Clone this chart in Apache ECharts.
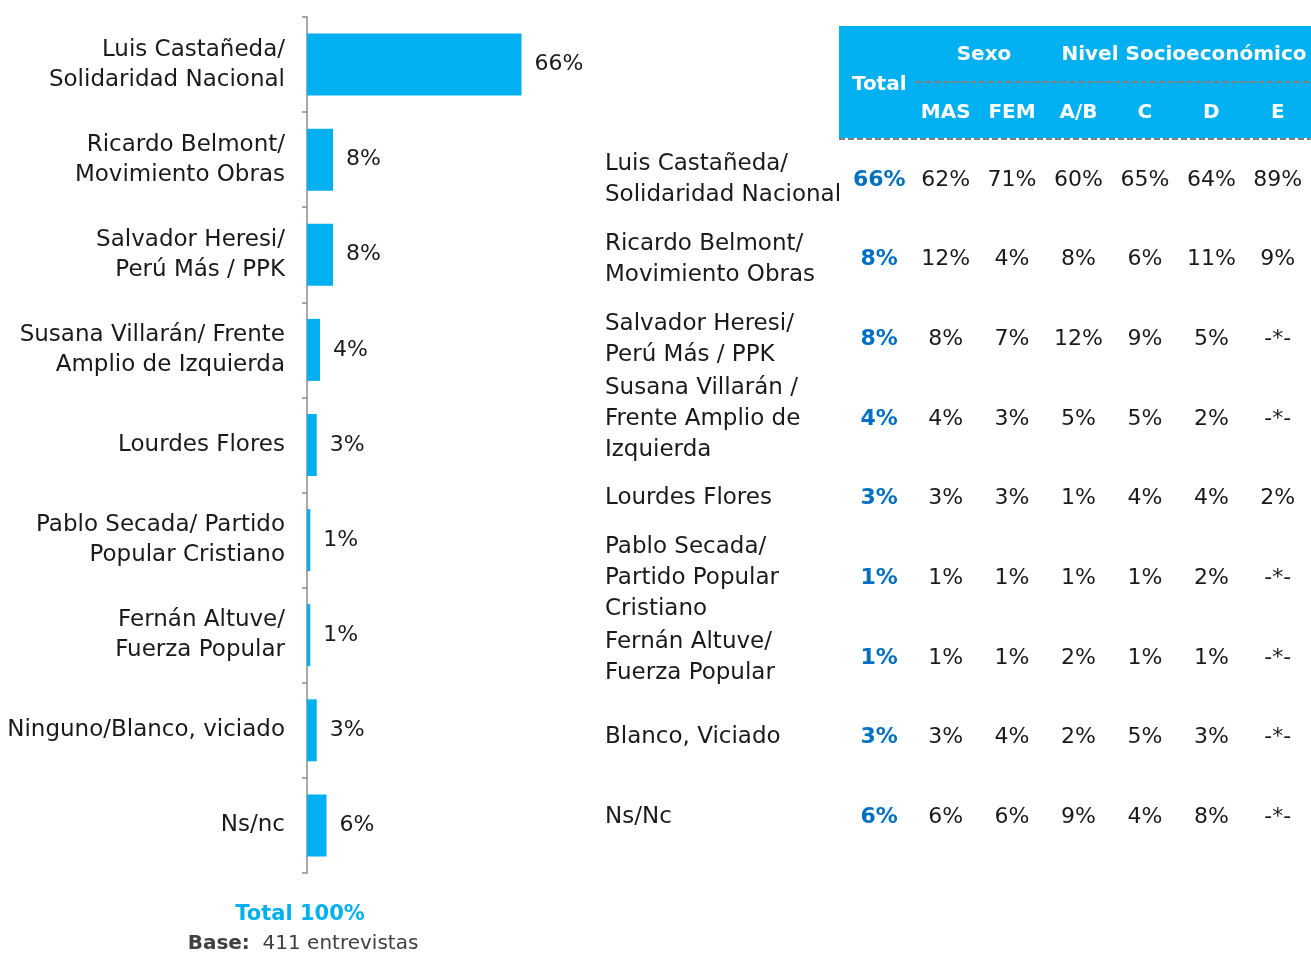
<!DOCTYPE html>
<html>
<head>
<meta charset="utf-8">
<script src="https://cdn.jsdelivr.net/npm/echarts@6/dist/echarts.min.js"></script>
<style>
  html, body { margin: 0; padding: 0; background: #fff; }
  #main { width: 1311px; height: 954px; }
</style>
</head>
<body>
<div id="main"></div>
<script>
// candidatos (grafico de barras)
var candidatos = [
  'Luis Castañeda/\nSolidaridad Nacional',
  'Ricardo Belmont/\nMovimiento Obras',
  'Salvador Heresi/\nPerú Más / PPK',
  'Susana Villarán/ Frente\nAmplio de Izquierda',
  'Lourdes Flores',
  'Pablo Secada/ Partido\nPopular Cristiano',
  'Fernán Altuve/\nFuerza Popular',
  'Ninguno/Blanco, viciado',
  'Ns/nc'
];
var intencion = [66, 8, 8, 4, 3, 1, 1, 3, 6];

// tabla por segmentos
var filasTabla = [
  'Luis Castañeda/\nSolidaridad Nacional',
  'Ricardo Belmont/\nMovimiento Obras',
  'Salvador Heresi/\nPerú Más / PPK',
  'Susana Villarán /\nFrente Amplio de\nIzquierda',
  'Lourdes Flores',
  'Pablo Secada/\nPartido Popular\nCristiano',
  'Fernán Altuve/\nFuerza Popular',
  'Blanco, Viciado',
  'Ns/Nc'
];
var columnas = ['Total', 'MAS', 'FEM', 'A/B', 'C', 'D', 'E'];
var total = [66, 8, 8, 4, 3, 1, 1, 3, 6];
var mas   = [62, 12, 8, 4, 3, 1, 1, 3, 6];
var fem   = [71, 4, 7, 3, 3, 1, 1, 4, 6];
var nseAB = [60, 8, 12, 5, 1, 1, 2, 2, 9];
var nseC  = [65, 6, 9, 5, 4, 1, 1, 5, 4];
var nseD  = [64, 11, 5, 2, 4, 2, 1, 3, 8];
var nseE  = [89, 9, null, null, 2, null, null, null, null];

var FONT = 'DejaVu Sans';
var CELESTE = '#00B0F0';
var TEXTO = '#1a1a1a';

// celdas de la tabla -> [columna, fila, valor]
function celdas(arr, col) {
  return arr.map(function (v, i) { return [col, i, v]; });
}
var otrasCeldas = [];
[mas, fem, nseAB, nseC, nseD, nseE].forEach(function (arr, k) {
  otrasCeldas = otrasCeldas.concat(celdas(arr, k + 1));
});

function textoCelda(p) {
  return p.value[2] == null ? '-*-' : p.value[2] + '%';
}

var chart = echarts.init(document.getElementById('main'));
chart.setOption({
  animation: false,
  textStyle: { fontFamily: FONT },
  grid: [
    { left: 307, top: 17, width: 325, height: 856 },
    { left: 846, top: 140, width: 474, height: 717 }
  ],
  xAxis: [
    { gridIndex: 0, type: 'value', min: 0, max: 100, show: false },
    {
      gridIndex: 1, type: 'category', data: columnas, position: 'top', z: 10,
      axisLine: { show: false }, axisTick: { show: false }, splitLine: { show: false },
      axisLabel: {
        interval: 0, margin: 17, color: '#fff', fontWeight: 'bold', fontSize: 20, fontFamily: FONT,
        formatter: function (v) { return v === 'Total' ? '{t|Total}' : v; },
        rich: { t: { color: '#fff', fontWeight: 'bold', fontSize: 20, fontFamily: FONT, padding: [0, 0, 28, 0] } }
      }
    }
  ],
  yAxis: [
    {
      gridIndex: 0, type: 'category', data: candidatos, inverse: true,
      axisLine: { lineStyle: { color: '#8c8c8c', width: 1.5 } },
      axisTick: { show: true, length: 5, lineStyle: { color: '#8c8c8c', width: 1.5 } },
      axisLabel: { margin: 22, fontSize: 23, lineHeight: 30, color: TEXTO, fontFamily: FONT, align: 'right' }
    },
    {
      gridIndex: 1, type: 'category', data: filasTabla, inverse: true,
      axisLine: { show: false }, axisTick: { show: false },
      axisLabel: { interval: 0, margin: 241, align: 'left', fontSize: 23, lineHeight: 31, color: TEXTO, fontFamily: FONT }
    }
  ],
  series: [
    {
      type: 'bar', xAxisIndex: 0, yAxisIndex: 0, data: intencion, barWidth: 62,
      itemStyle: { color: CELESTE },
      label: { show: true, position: 'right', distance: 13, formatter: '{c}%', fontSize: 22, color: TEXTO, fontFamily: FONT }
    },
    {
      type: 'scatter', xAxisIndex: 1, yAxisIndex: 1, data: celdas(total, 0), symbolSize: 1,
      itemStyle: { color: 'rgba(0,0,0,0)', opacity: 1 },
      label: {
        show: true, position: 'inside', fontSize: 22, fontWeight: 'bold', color: '#0070C0', fontFamily: FONT,
        formatter: textoCelda
      }
    },
    {
      type: 'scatter', xAxisIndex: 1, yAxisIndex: 1, data: otrasCeldas, symbolSize: 1,
      itemStyle: { color: 'rgba(0,0,0,0)', opacity: 1 },
      label: {
        show: true, position: 'inside', fontSize: 22, color: TEXTO, fontFamily: FONT,
        formatter: textoCelda
      }
    }
  ],
  graphic: [
    // cabecera de la tabla
    { type: 'rect', z: 0, shape: { x: 839, y: 26, width: 472, height: 112 }, style: { fill: CELESTE } },
    { type: 'line', z: 5, shape: { x1: 916, y1: 82, x2: 1311, y2: 82 }, style: { stroke: '#808080', lineWidth: 2, lineDash: [6, 3] } },
    { type: 'line', z: 5, shape: { x1: 839, y1: 139, x2: 1311, y2: 139 }, style: { stroke: '#808080', lineWidth: 2, lineDash: [6, 3] } },
    { type: 'text', z: 10, x: 984, y: 55, style: { text: 'Sexo', fill: '#fff', font: 'bold 20px "DejaVu Sans"', textAlign: 'center', textVerticalAlign: 'middle' } },
    { type: 'text', z: 10, x: 1184, y: 55, style: { text: 'Nivel Socioeconómico', fill: '#fff', font: 'bold 20px "DejaVu Sans"', textAlign: 'center', textVerticalAlign: 'middle' } },
    // pie del grafico
    { type: 'text', z: 10, x: 300, y: 915, style: { text: 'Total 100%', fill: CELESTE, font: 'bold 21px "DejaVu Sans"', textAlign: 'center', textVerticalAlign: 'middle' } },
    {
      type: 'text', z: 10, x: 303, y: 944,
      style: {
        text: '{b|Base:}  411 entrevistas', fill: '#404040', font: '20px "DejaVu Sans"', textAlign: 'center', textVerticalAlign: 'middle',
        rich: { b: { fontWeight: 'bold', fontSize: 20, fontFamily: FONT, fill: '#404040' } }
      }
    }
  ]
});
</script>
</body>
</html>
